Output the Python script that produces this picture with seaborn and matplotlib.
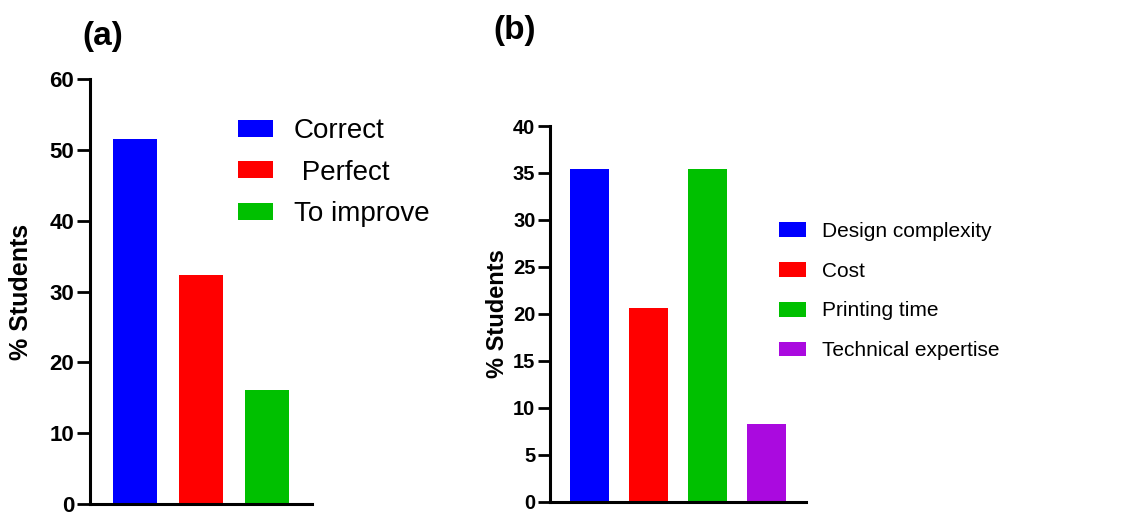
import matplotlib
matplotlib.use("Agg")
import matplotlib.pyplot as plt
import seaborn as sns

# Panel (a): evaluation of the printed model
a_labels = ["Correct", " Perfect", "To improve"]
a_values = [51.6, 32.3, 16.1]
a_colors = ["#0000FF", "#FF0000", "#00C000"]

# Panel (b): main difficulties
b_labels = ["Design complexity", "Cost", "Printing time", "Technical expertise"]
b_values = [35.4, 20.6, 35.4, 8.3]
b_colors = ["#0000FF", "#FF0000", "#00C000", "#AA0ADF"]

sns.set_style("ticks")
plt.rcParams["font.family"] = ["Liberation Sans", "DejaVu Sans"]
plt.rcParams["text.color"] = "black"
plt.rcParams["axes.labelcolor"] = "black"
plt.rcParams["ytick.color"] = "black"
plt.rcParams["ytick.labelcolor"] = "black"

W, H = 1131, 513
fig = plt.figure(figsize=(W / 100, H / 100), dpi=100)


def px_axes(left, top, right, bottom):
    return fig.add_axes([left / W, 1 - bottom / H, (right - left) / W, (bottom - top) / H])


def style_axis(ax, tick_size, label_size, tick_len, label_x):
    for side in ["top", "right"]:
        ax.spines[side].set_visible(False)
    for side in ["left", "bottom"]:
        ax.spines[side].set_linewidth(2.2)
        ax.spines[side].set_color("black")
    ax.set_xticks([])
    ax.set_xlabel("")
    ax.tick_params(axis="y", length=tick_len, width=2.0, labelsize=tick_size, pad=2)
    for t in ax.get_yticklabels():
        t.set_fontweight("bold")
    ax.set_ylabel("% Students", fontsize=label_size, fontweight="bold", va="center")
    ax.yaxis.set_label_coords(label_x, 0.5)


# ---- panel (a)
ax_a = px_axes(90, 79, 312, 504)
sns.barplot(x=a_labels, y=a_values, hue=a_labels, palette=a_colors, saturation=1,
            width=0.667, ax=ax_a, legend=True, linewidth=0)
ax_a.set_xlim(-0.68, 2.68)
ax_a.set_ylim(0, 60)
ax_a.set_yticks(range(0, 61, 10))
style_axis(ax_a, 16, 18, 9.5, (21 - 90) / 222)
h, l = ax_a.get_legend_handles_labels()
ax_a.legend(h, l, loc="center left", bbox_to_anchor=(238 / W, 1 - 172.5 / H),
            bbox_transform=fig.transFigure, frameon=False, fontsize=20,
            handlelength=1.26, handleheight=0.58, handletextpad=0.76,
            labelspacing=0.56, borderpad=0, borderaxespad=0)

# ---- panel (b)
ax_b = px_axes(550, 126, 806, 501.7)
sns.barplot(x=b_labels, y=b_values, hue=b_labels, palette=b_colors, saturation=1,
            width=0.66, ax=ax_b, legend=True, linewidth=0)
ax_b.set_xlim(-0.67, 3.67)
ax_b.set_ylim(0, 40)
ax_b.set_yticks(range(0, 41, 5))
style_axis(ax_b, 14.5, 17, 8.5, (497 - 550) / 256)
h, l = ax_b.get_legend_handles_labels()
ax_b.legend(h, l, loc="center left", bbox_to_anchor=(779 / W, 1 - 291 / H),
            bbox_transform=fig.transFigure, frameon=False, fontsize=15,
            handlelength=1.3, handleheight=0.72, handletextpad=0.78,
            labelspacing=1.0, borderpad=0, borderaxespad=0)

fig.text(103 / W, 1 - 36 / H, "(a)", fontsize=24, fontweight="bold", ha="center", va="center")
fig.text(515 / W, 1 - 31 / H, "(b)", fontsize=24, fontweight="bold", ha="center", va="center")

fig.savefig("out.png", dpi=100)
